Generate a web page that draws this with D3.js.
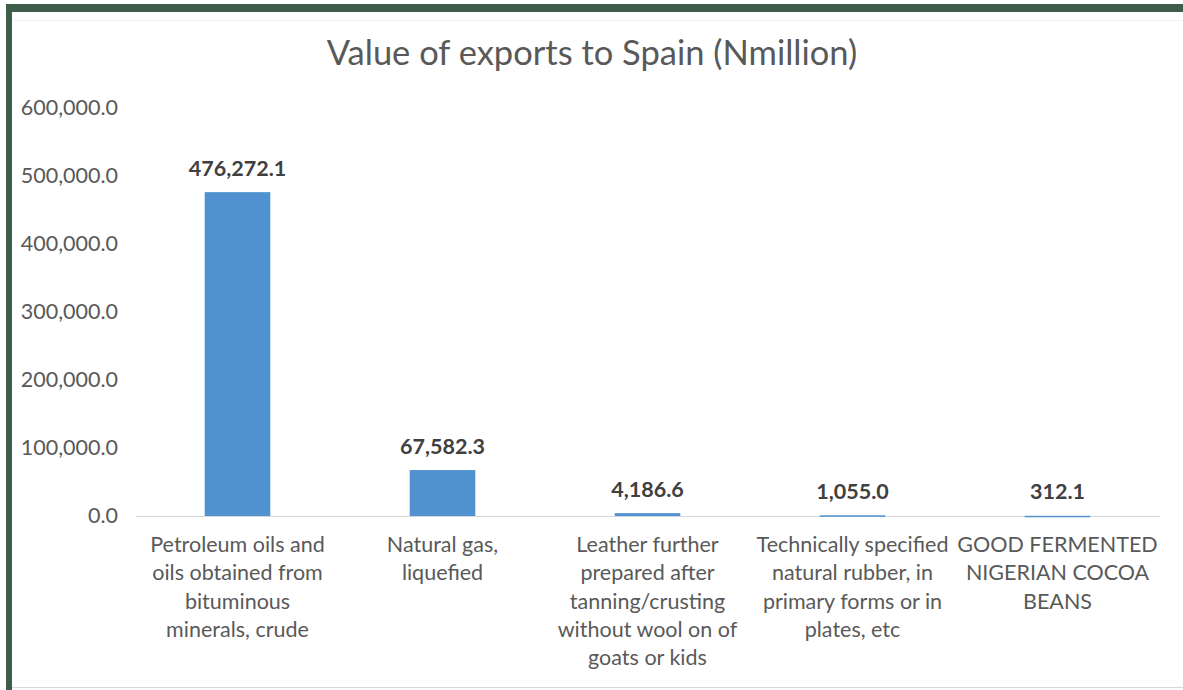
<!DOCTYPE html>
<html>
<head>
<meta charset="utf-8">
<script src="https://cdn.jsdelivr.net/npm/d3@7"></script>
<style>
  html, body { margin: 0; padding: 0; background: #fff; }
  svg { display: block; }
  text { font-family: Lato, "Open Sans", sans-serif; }
</style>
</head>
<body>
<svg id="chart" width="1183" height="690"></svg>
<script>
// Exports to Spain by product (N million)
const categories = [
  "Petroleum oils and oils obtained from bituminous minerals, crude",
  "Natural gas, liquefied",
  "Leather further prepared after tanning/crusting without wool on of goats or kids",
  "Technically specified natural rubber, in primary forms or in plates, etc",
  "GOOD FERMENTED NIGERIAN COCOA BEANS"
];
const categoryLines = [
  ["Petroleum oils and", "oils obtained from", "bituminous", "minerals, crude"],
  ["Natural gas,", "liquefied"],
  ["Leather further", "prepared after", "tanning/crusting", "without wool on of", "goats or kids"],
  ["Technically specified", "natural rubber, in", "primary forms or in", "plates, etc"],
  ["GOOD FERMENTED", "NIGERIAN COCOA", "BEANS"]
];
const values = [476272.1, 67582.3, 4186.6, 1055.0, 312.1];
const yTicks = [0, 100000, 200000, 300000, 400000, 500000, 600000];
const title = "Value of exports to Spain (Nmillion)";

const svg = d3.select("#chart");
const W = 1183, H = 690;
const FS = 21.5;

// frame: dark green top and left edges, light rule at the bottom
svg.append("rect").attr("x", 0).attr("y", 0).attr("width", W).attr("height", H).attr("fill", "#fff");
svg.append("rect").attr("x", 6).attr("y", 4).attr("width", W - 6).attr("height", 8).attr("fill", "#3e5e4a");
svg.append("rect").attr("x", 6).attr("y", 4).attr("width", 6).attr("height", H - 4).attr("fill", "#3e5e4a");
svg.append("line").attr("x1", 12).attr("x2", W).attr("y1", 20.5).attr("y2", 20.5)
  .attr("stroke", "#f2f2f2").attr("stroke-width", 1);
svg.append("line").attr("x1", 12).attr("x2", W).attr("y1", 687.5).attr("y2", 687.5)
  .attr("stroke", "#d9d9d9").attr("stroke-width", 1);

const plot = { left: 135, right: 1160, top: 108, bottom: 516 };

const x = d3.scaleBand()
  .domain(categories)
  .range([plot.left, plot.right])
  .paddingInner(0.68)
  .paddingOuter(0.34);

const y = d3.scaleLinear()
  .domain([0, 600000])
  .range([plot.bottom, plot.top]);

const fmt = d3.format(",.1f");

// title
svg.append("text")
  .attr("x", 592).attr("y", 65)
  .attr("text-anchor", "middle")
  .attr("fill", "#595959")
  .attr("font-size", 34.5)
  .text(title);

// y axis labels (no axis line, no gridlines)
const yAxis = d3.axisLeft(y).tickValues(yTicks).tickFormat(fmt).tickSize(0).tickPadding(0);
const yg = svg.append("g").attr("transform", `translate(118,0)`).call(yAxis);
yg.select(".domain").remove();
yg.selectAll("text")
  .attr("fill", "#595959")
  .attr("font-size", FS)
  .attr("font-family", "Lato, 'Open Sans', sans-serif");

// baseline
const xAxis = d3.axisBottom(x).tickSize(0).tickFormat("");
const xg = svg.append("g").attr("transform", `translate(0,${plot.bottom})`).call(xAxis);
xg.select(".domain").attr("stroke", "#d9d9d9").attr("stroke-width", 1);

// bars
svg.append("g").selectAll("rect")
  .data(values)
  .join("rect")
  .attr("x", (d, i) => x(categories[i]))
  .attr("width", x.bandwidth())
  .attr("y", d => y(d))
  .attr("height", d => Math.max(y(0) - y(d), 1.5))
  .attr("fill", "#5092cf");

// value labels
svg.append("g").selectAll("text")
  .data(values)
  .join("text")
  .attr("x", (d, i) => x(categories[i]) + x.bandwidth() / 2)
  .attr("y", d => Math.min(y(d), y(0) - 1.5) - 16)
  .attr("text-anchor", "middle")
  .attr("fill", "#404040")
  .attr("font-size", FS)
  .attr("font-weight", "bold")
  .text(d => fmt(d));

// category labels
const cat = svg.append("g").selectAll("text")
  .data(categoryLines)
  .join("text")
  .attr("text-anchor", "middle")
  .attr("fill", "#595959")
  .attr("font-size", FS)
  .attr("transform", (d, i) => `translate(${x(categories[i]) + x.bandwidth() / 2},552)`);
cat.selectAll("tspan")
  .data(d => d)
  .join("tspan")
  .attr("x", 0)
  .attr("y", (d, j) => j * 28.3)
  .text(d => d);
</script>
</body>
</html>
